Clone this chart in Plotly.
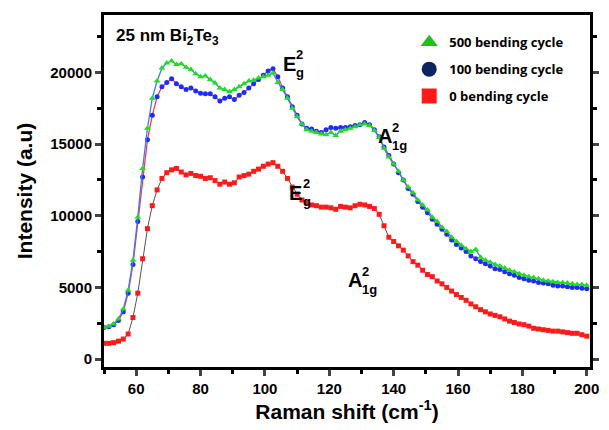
import plotly.graph_objects as go

# Raman shift grid (cm^-1)
raman_shift = [50 + 1.5 * i for i in range(101)]

intensity_0 = [1100, 1100, 1150, 1250, 1400, 1750, 2900, 4600, 7000, 9100,
               10700, 11800, 12600, 13000, 13200, 13300, 13050, 12850, 12950, 12800,
               12750, 12600, 12650, 12450, 12200, 12350, 12200, 12300, 12700, 12800,
               12900, 13100, 13250, 13450, 13600, 13700, 13450, 13100, 12600, 12000,
               11500, 11100, 10900, 10750, 10700, 10600, 10600, 10550, 10450, 10650,
               10600, 10550, 10700, 10800, 10750, 10650, 10500, 10100, 9300, 8500,
               8200, 7900, 7600, 7200, 6800, 6550, 6200, 5900, 5750, 5450,
               5250, 5000, 4750, 4500, 4300, 4100, 3850, 3650, 3450, 3300,
               3150, 3050, 2950, 2800, 2650, 2550, 2450, 2400, 2300, 2150,
               2100, 2050, 2000, 1950, 1950, 1900, 1850, 1800, 1800, 1700,
               1600]

intensity_100 = [2200, 2250, 2400, 2700, 3300, 4600, 6600, 9600, 12700, 15300,
                 17000, 18300, 19000, 19300, 19550, 19200, 19000, 18800, 18900, 18700,
                 18550, 18500, 18500, 18300, 18000, 18200, 18300, 18100, 18400, 18600,
                 18900, 19200, 19500, 19800, 20100, 20250, 19700, 18900, 18300, 17600,
                 17000, 16400, 16100, 16050, 15900, 15800, 16000, 16150, 16100, 16150,
                 16150, 16200, 16300, 16350, 16500, 16350, 16000, 15500, 14800, 14200,
                 13600, 13000, 12500, 11900, 11500, 11000, 10600, 10200, 9750, 9400,
                 9050, 8700, 8300, 8000, 7750, 7500, 7200, 7000, 6800, 6650,
                 6500, 6300, 6250, 6100, 5950, 5850, 5700, 5600, 5500, 5450,
                 5350, 5300, 5250, 5150, 5100, 5100, 5050, 5000, 5000, 4950,
                 4900]

intensity_500 = [2200, 2300, 2450, 2800, 3500, 4800, 6900, 9900, 13300, 16100,
                 18200, 19400, 20300, 20650, 20800, 20550, 20600, 20350, 20200, 19900,
                 19700, 19750, 19500, 19250, 18900, 18800, 18650, 18800, 19000, 19200,
                 19400, 19450, 19600, 19700, 19800, 19950, 19300, 18800, 18200, 17500,
                 16900, 16400, 16000, 15900, 15800, 15700, 15650, 15800, 15600, 15900,
                 16000, 16100, 16200, 16350, 16400, 16300, 15950, 15450, 14700, 14100,
                 13600, 13100, 12500, 12000, 11600, 11100, 10750, 10400, 9900, 9600,
                 9200, 8900, 8500, 8200, 7950, 7700, 7500, 7650, 7100, 6900,
                 6750, 6600, 6500, 6350, 6200, 6100, 5950, 5850, 5750, 5700,
                 5600, 5500, 5450, 5400, 5350, 5350, 5300, 5250, 5200, 5200,
                 5150]

legend_labels = ["500 bending cycle", "100 bending cycle", "0 bending cycle"]
x_ticks = [60, 80, 100, 120, 140, 160, 180, 200]
y_ticks = [0, 5000, 10000, 15000, 20000]
y_tick_text = ["0", "5000", "10000", "15000", "20000"]

fig = go.Figure()

fig.add_trace(go.Scatter(x=raman_shift, y=intensity_0, mode="lines+markers",
                         line=dict(color="#555555", width=1),
                         marker=dict(symbol="square", size=5, color="#ff1a1a"),
                         showlegend=False))
fig.add_trace(go.Scatter(x=raman_shift, y=intensity_100, mode="lines+markers",
                         line=dict(color="#ff3b3b", width=1.3),
                         marker=dict(symbol="circle", size=5, color="#1a2cff"),
                         showlegend=False))
fig.add_trace(go.Scatter(x=raman_shift, y=intensity_500, mode="lines+markers",
                         line=dict(color="#3a7bff", width=1.3),
                         marker=dict(symbol="triangle-up", size=6, color="#22dd1a"),
                         showlegend=False))

# legend entries (larger symbols, as in the reference)
legend_styles = [("triangle-up", "#1fc21a"), ("circle", "#0d2460"), ("square", "#ff1a1a")]
for i, (lab, (sym, col)) in enumerate(zip(legend_labels, legend_styles)):
    fig.add_trace(go.Scatter(x=[None], y=[None], mode="markers", name=lab,
                             legendgroup=str(i),
                             marker=dict(symbol=sym, size=15, color=col)))

bold = "Liberation Sans"
annotations = [
    dict(x=53, y=22460, xref="x", yref="y", text="<b>25 nm Bi<sub>2</sub>Te<sub>3</sub></b>",
         showarrow=False, xanchor="left", font=dict(family=bold, size=17, color="black")),
]

def peak_label(xv, yv, main, sub):
    out = [dict(x=xv, y=yv, xref="x", yref="y", text="<b>%s</b>" % main, showarrow=False,
                xanchor="center", yanchor="middle", font=dict(family=bold, size=20, color="black")),
           dict(x=xv, y=yv, xref="x", yref="y", text="<b>2</b>", showarrow=False,
                xanchor="left", yanchor="middle", xshift=5, yshift=9,
                font=dict(family=bold, size=13, color="black")),
           dict(x=xv, y=yv, xref="x", yref="y", text="<b>%s</b>" % sub, showarrow=False,
                xanchor="left", yanchor="middle", xshift=5, yshift=-9,
                font=dict(family=bold, size=13, color="black"))]
    return out

annotations += peak_label(107.5, 20615, "E", "g")
annotations += peak_label(109.6, 11600, "E", "g")
annotations += peak_label(137.2, 15560, "A", "1g")
annotations += peak_label(128.0, 5500, "A", "1g")

fig.update_layout(
    width=609, height=430,
    margin=dict(l=104, r=10, t=15, b=56),
    plot_bgcolor="white", paper_bgcolor="white",
    font=dict(family=bold, color="black"),
    annotations=annotations,
    legend=dict(x=0.628, y=0.965, xanchor="left", yanchor="top",
                bgcolor="rgba(0,0,0,0)", tracegroupgap=7,
                font=dict(family="Open Sans", size=13, color="black", weight="bold")),
    xaxis=dict(range=[50, 201], tickvals=x_ticks, ticks="outside", ticklen=6, tickwidth=2.5,
               showline=True, linewidth=3, linecolor="black", mirror=True,
               showgrid=False, zeroline=False,
               tickfont=dict(family=bold, size=15, weight="bold"),
               minor=dict(ticks="outside", dtick=10, tick0=50, ticklen=4, tickwidth=2.5,
                          tickcolor="black", showgrid=False),
               title=dict(text="<b>Raman shift (cm<sup>-1</sup>)</b>", standoff=8,
                          font=dict(family=bold, size=21))),
    yaxis=dict(range=[-550, 24000], tickvals=y_ticks, ticktext=y_tick_text,
               ticks="outside", ticklen=6, tickwidth=2.5,
               showline=True, linewidth=3, linecolor="black", mirror="ticks",
               showgrid=False, zeroline=False,
               tickfont=dict(family=bold, size=15, weight="bold"),
               minor=dict(ticks="outside", dtick=2500, tick0=0, ticklen=4, tickwidth=2.5,
                          tickcolor="black", showgrid=False),
               title=dict(text="<b>Intensity (a.u)</b>", standoff=12,
                          font=dict(family=bold, size=21))),
)

fig.write_html("out.html")
